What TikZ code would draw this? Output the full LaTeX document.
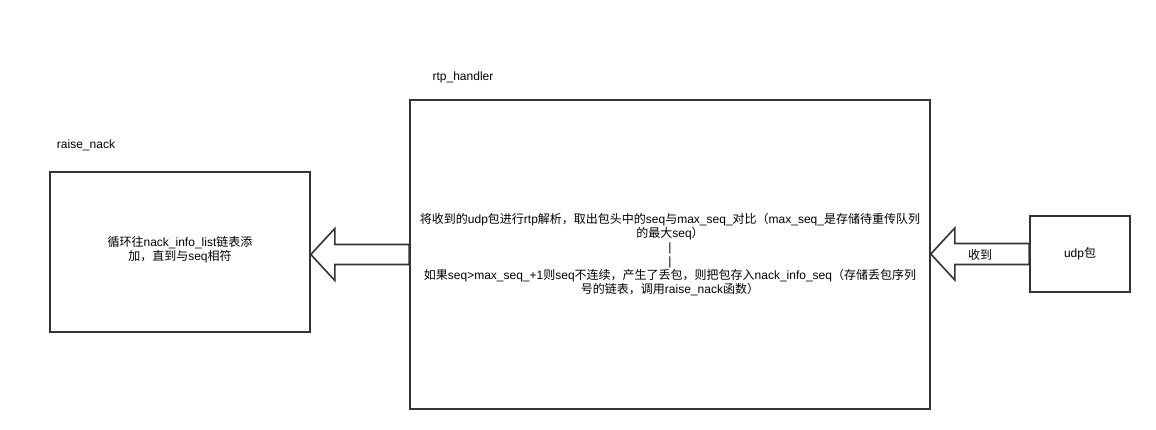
\documentclass[tikz,border=0pt]{standalone}
\usepackage{fontspec}
\setmainfont{Liberation Sans}
\newfontfamily\zh{Noto Sans CJK SC}
\usetikzlibrary{calc}
\definecolor{stroke}{HTML}{333333}
\begin{document}
\begin{tikzpicture}[x=1pt,y=-1pt,
  box/.style={draw=stroke, line width=1.6pt, fill=white, inner sep=0pt},
  fat/.style={draw=stroke, line width=1.6pt, fill=white, line join=miter},
  txt/.style={font=\fontsize{12}{14}\selectfont, align=center, text=black, inner sep=0pt},
  lbl/.style={font=\fontsize{12}{14}\selectfont, text=black, inner sep=0pt}]
\useasboundingbox[fill=white] (0,0) rectangle (1156,430);
% boxes
\node[box, minimum width=520pt, minimum height=309pt] (rtp) at (670,254.5) {};
\node[box, minimum width=260pt, minimum height=160pt] (raise) at (180,252) {};
\node[box, minimum width=100pt, minimum height=76pt] (udp) at (1080,254) {};
% titles
\node[lbl] (rtplabel) at (463,77) {rtp\_handler};
\node[lbl] (raiselabel) at (86,145) {raise\_nack};
% left fat arrow rtp -> raise
\coordinate (tl) at (raise.east |- rtp.west);
\draw[fat] (tl) -- ($(tl)+(24,-26)$) -- ($(tl)+(24,-10)$) -- ($(rtp.west)+(0,-10)$)
  -- ($(rtp.west)+(0,10)$) -- ($(tl)+(24,10)$) -- ($(tl)+(24,26)$) -- cycle;
% right fat arrow udp -> rtp
\coordinate (tr) at (rtp.east |- udp.west);
\draw[fat] (tr) -- ($(tr)+(24,-26)$) -- ($(tr)+(24,-10.5)$) -- ($(udp.west)+(0,-10.5)$)
  -- ($(udp.west)+(0,10.5)$) -- ($(tr)+(24,10.5)$) -- ($(tr)+(24,26)$) -- cycle;
\node[lbl] (recv) at (980,255) {\zh 收到};
% texts
\node[txt] (udptxt) at (udp.center) {udp{\zh 包}};
\node[txt] (raisetxt) at ($(raise.center)+(0,-2)$) {{\zh 循环往}nack\_info\_list{\zh 链表添}\\{\zh 加，直到与}seq{\zh 相符}};
\node[txt] (rtptxt) at ($(rtp.center)+(0,0.5)$) {{\zh 将收到的}udp{\zh 包进行}rtp{\zh 解析，取出包头中的}seq{\zh 与}max\_seq\_{\zh 对比（}max\_seq\_{\zh 是存储待重传队列}\\
{\zh 的最大}seq{\zh ）}\\
|\\
|\\
{\zh 如果}seq>max\_seq\_+1{\zh 则}seq{\zh 不连续，产生了丢包，则把包存入}nack\_info\_seq{\zh （存储丢包序列}\\
{\zh 号的链表，调用}raise\_nack{\zh 函数）}};
\end{tikzpicture}
\end{document}
